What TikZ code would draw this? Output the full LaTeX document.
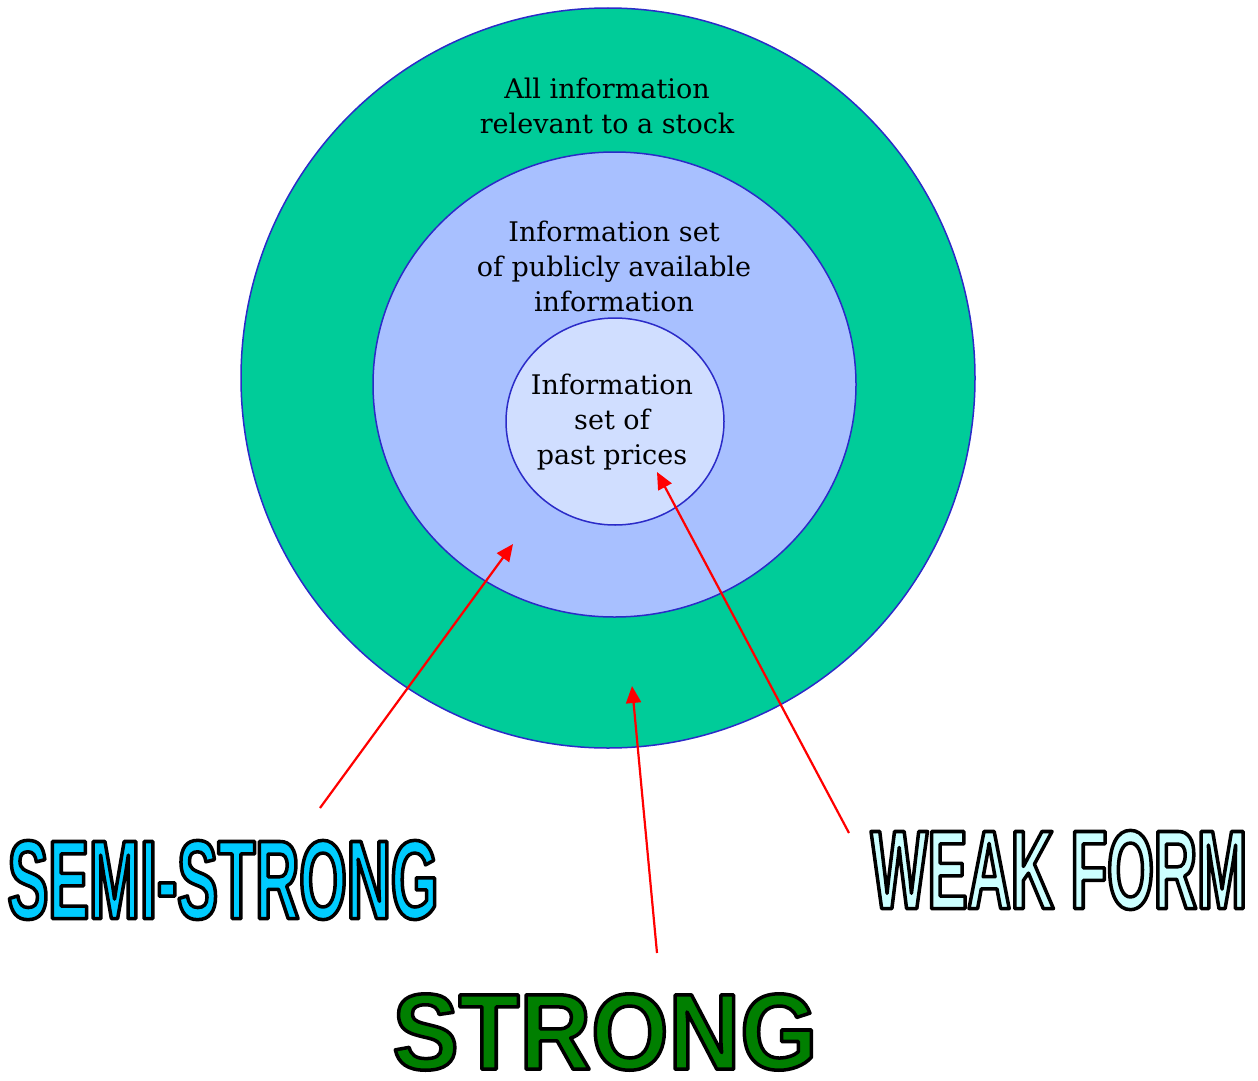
\documentclass[tikz,border=0pt]{standalone}
\usepackage{fontspec}
\setmainfont{DejaVu Serif}
\newfontfamily\narrowbold[FakeStretch=0.545]{Liberation Sans}
\newfontfamily\narrowerbold[FakeStretch=0.535]{Liberation Sans}
\newfontfamily\widebold[FakeStretch=0.92]{Liberation Sans}
\usetikzlibrary{arrows.meta}

\definecolor{ringgreen}{HTML}{00CC99}
\definecolor{ringblue}{HTML}{A8C0FF}
\definecolor{ringpale}{HTML}{D0DEFF}
\definecolor{ringedge}{HTML}{2B2BC8}
\definecolor{semicyan}{HTML}{00CCFF}
\definecolor{weakcyan}{HTML}{CCFFFF}
\definecolor{stronggreen}{HTML}{007F00}

% filled letters with a black outline
\newcommand{\outlinetext}[3]{{\color{#1}\special{pdf:literal direct 0 0 0 RG #2 w 1 j 2 Tr}#3\special{pdf:literal direct 0 Tr}}}

\tikzset{
  ringedge/.style={draw=ringedge,line width=1.5pt},
  ringtext/.style={align=center,font=\fontsize{27}{35}\selectfont},
  formarrow/.style={draw=red,line width=2.2pt,-{Triangle[length=17pt,width=15pt]}},
  formlabel/.style={inner sep=0pt}
}

\begin{document}
\begin{tikzpicture}[x=1pt,y=-1pt]
   \useasboundingbox (0,0) rectangle (1258,1081);
   % the three information sets
   \fill[ringgreen,ringedge] (608,378) circle [x radius=367, y radius=370];
   \fill[ringblue,ringedge] (614.5,384.5) circle [x radius=241.5, y radius=232.5];
   \fill[ringpale,ringedge] (615,421.5) circle [x radius=109, y radius=103.5];
   \node[ringtext] (alltext) at (607,106) {All information\\relevant to a stock};
   \node[ringtext] (pubtext) at (614,266) {Information set\\of publicly available\\information};
   \node[ringtext] (pasttext) at (612,422) {Information\\set of\\past prices};
   % the three forms
   \node[formlabel] (semi) at (223,880) {\narrowbold\bfseries\fontsize{112}{112}\selectfont\outlinetext{semicyan}{3.5}{SEMI-STRONG}};
   \node[formlabel] (weak) at (1059,870) {\narrowerbold\bfseries\fontsize{112}{112}\selectfont\outlinetext{weakcyan}{3.5}{WEAK FORM}};
   \node[formlabel] (strong) at (605,1032) {\widebold\bfseries\fontsize{108}{108}\selectfont\outlinetext{stronggreen}{3.5}{STRONG}};
   \coordinate (semitail) at (320,808);
   \coordinate (semihead) at (513,544);
   \coordinate (strongtail) at (657,953);
   \coordinate (stronghead) at (632,686);
   \coordinate (weaktail) at (849,833);
   \coordinate (weakhead) at (657,472);
   \draw[formarrow] (semitail) -- (semihead);
   \draw[formarrow] (strongtail) -- (stronghead);
   \draw[formarrow] (weaktail) -- (weakhead);
\end{tikzpicture}
\end{document}
